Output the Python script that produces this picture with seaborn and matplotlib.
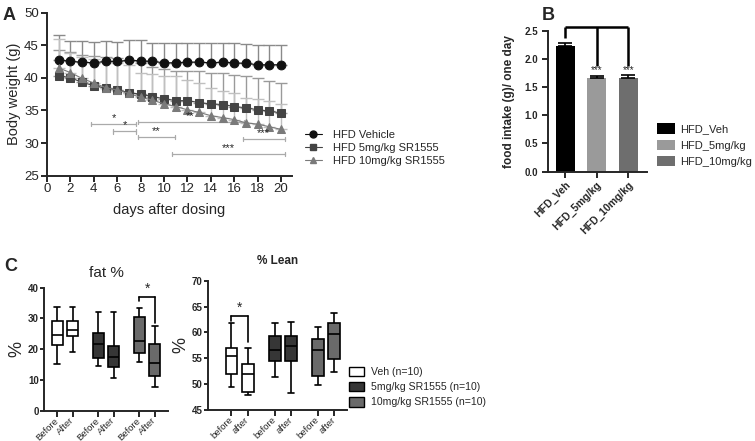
import numpy as np
import pandas as pd
import matplotlib
matplotlib.use("Agg")
import matplotlib.pyplot as plt
import seaborn as sns
from matplotlib.patches import Patch
from matplotlib.lines import Line2D

# ---------------- data: panel A ----------------
days = list(range(1, 21))
veh_mean = [42.8, 42.5, 42.4, 42.3, 42.5, 42.5, 42.7, 42.6, 42.5, 42.3,
            42.3, 42.4, 42.4, 42.3, 42.4, 42.3, 42.2, 42.0, 42.0, 42.0]
veh_sd = [3.7, 3.2, 3.2, 3.2, 3.1, 3.0, 3.1, 3.2, 2.9, 3.1,
          3.0, 2.9, 2.9, 3.0, 3.0, 3.0, 3.0, 3.0, 3.1, 3.1]
sr5_mean = [40.3, 40.0, 39.3, 38.8, 38.4, 38.2, 37.7, 37.5, 37.1, 36.8,
            36.5, 36.5, 36.2, 36.0, 35.9, 35.6, 35.4, 35.1, 34.9, 34.6]
sr5_sd = [4.0, 3.9, 4.2, 4.6, 4.8, 4.9, 4.8, 4.7, 4.6, 4.6,
          4.6, 4.6, 4.9, 4.8, 4.9, 4.9, 4.9, 4.8, 4.6, 4.6]
sr10_mean = [41.5, 40.8, 39.9, 39.2, 38.5, 38.1, 37.6, 37.0, 36.6, 36.0,
             35.6, 35.1, 34.7, 34.2, 33.9, 33.6, 33.1, 32.9, 32.5, 32.1]
sr10_sd = [4.5, 3.0, 3.3, 3.7, 3.9, 4.2, 4.3, 3.8, 4.0, 4.2,
           4.6, 4.5, 4.5, 4.3, 4.0, 4.0, 3.8, 3.8, 3.9, 3.9]
groupsA = ["HFD Vehicle", "HFD 5mg/kg SR1555", "HFD 10mg/kg SR1555"]
sig_x0 = [3.8, 5.65, 7.75, 7.75, 16.75, 10.65]
sig_x1 = [7.6, 7.6, 16.8, 10.9, 20.3, 20.3]
sig_y = [32.9, 31.8, 33.2, 30.9, 30.6, 28.3]
sig_lab = ["*", "*", "**", "**", "***", "***"]

# ---------------- data: panel B ----------------
catsB = ["HFD_Veh", "HFD_5mg/kg", "HFD_10mg/kg"]
intake = [2.23, 1.66, 1.66]
intake_err = [0.06, 0.04, 0.05]

# ---------------- data: panel C ----------------
box_labels_fat = ["Before", "After", "Before", "After", "Before", "After"]
box_labels_lean = ["before", "after", "before", "after", "before", "after"]
box_groups = ["Veh (n=10)", "Veh (n=10)", "5mg/kg SR1555 (n=10)", "5mg/kg SR1555 (n=10)",
              "10mg/kg SR1555 (n=10)", "10mg/kg SR1555 (n=10)"]
fat_pos = [0, 1, 2.66, 3.66, 5.33, 6.33]
lean_pos = [0, 1, 2.66, 3.66, 5.3, 6.3]
# min, Q1, median, Q3, max
fat_stats = [[15.1, 21.4, 24.5, 29.3, 33.8],
             [19.1, 24.3, 26.2, 29.3, 33.6],
             [14.7, 17.3, 21.6, 25.3, 32.0],
             [10.5, 14.1, 17.5, 21.0, 32.0],
             [16.0, 18.8, 22.8, 30.5, 33.5],
             [7.6, 11.2, 15.4, 21.8, 27.6]]
lean_stats = [[49.4, 52.0, 55.5, 56.9, 61.9],
              [47.9, 48.4, 52.0, 53.95, 56.9],
              [51.4, 54.5, 56.6, 59.4, 61.75],
              [48.3, 54.5, 57.4, 59.3, 62.1],
              [49.8, 51.6, 56.6, 58.7, 61.1],
              [52.3, 54.9, 59.7, 61.9, 63.8]]

# ---------------- style ----------------
sns.set_style("ticks")
plt.rcParams["font.family"] = ["Liberation Sans", "DejaVu Sans"]
plt.rcParams["axes.linewidth"] = 1.4
plt.rcParams["xtick.major.width"] = 1.4
plt.rcParams["ytick.major.width"] = 1.4

fig = plt.figure(figsize=(7.55, 4.41), dpi=100)

# ================= Panel A =================
axA = fig.add_axes([0.0623, 0.6016, 0.3245, 0.370])
colA = {"HFD Vehicle": "#111111", "HFD 5mg/kg SR1555": "#444444", "HFD 10mg/kg SR1555": "#7a7a7a"}
ecolA = {"HFD Vehicle": "#8a8a8a", "HFD 5mg/kg SR1555": "#9a9a9a", "HFD 10mg/kg SR1555": "#c0c0c0"}
mkA = {"HFD Vehicle": "o", "HFD 5mg/kg SR1555": "s", "HFD 10mg/kg SR1555": "^"}
dfA = pd.DataFrame({
    "day": days * 3,
    "weight": veh_mean + sr5_mean + sr10_mean,
    "sd": veh_sd + sr5_sd + sr10_sd,
    "group": [groupsA[0]] * 20 + [groupsA[1]] * 20 + [groupsA[2]] * 20,
})
for g in groupsA:
    sub = dfA[dfA.group == g]
    axA.errorbar(sub.day, sub.weight, yerr=[np.zeros(len(sub)), sub.sd], fmt="none",
                 ecolor=ecolA[g], elinewidth=1.0, capsize=4, capthick=1.0, zorder=1)
n_before = len(axA.lines)
sns.lineplot(data=dfA, x="day", y="weight", hue="group", style="group",
             markers=mkA, dashes=False, palette=colA, markersize=6.3,
             linewidth=0.8, legend=False, ax=axA, zorder=3)
for ln in axA.lines[n_before:]:
    ln.set_markeredgecolor(ln.get_color())
axA.set_xlim(0, 20.94)
axA.set_ylim(25, 50)
axA.set_xticks(range(0, 21, 2))
axA.set_yticks(range(25, 51, 5))
axA.tick_params(labelsize=9.5, length=4, direction="out")
axA.tick_params(axis="x", pad=1)
axA.tick_params(axis="y", pad=2)
axA.set_xlabel("days after dosing", fontsize=10.5, labelpad=6)
axA.set_ylabel("Body weight (g)", fontsize=10.5, labelpad=2)
sns.despine(ax=axA)
for x0, x1, y, lab in zip(sig_x0, sig_x1, sig_y, sig_lab):
    axA.plot([x0, x1], [y, y], color="#aaaaaa", lw=0.9, zorder=2)
    axA.plot([x0, x0], [y - 0.35, y + 0.35], color="#aaaaaa", lw=0.9)
    axA.plot([x1, x1], [y - 0.35, y + 0.35], color="#aaaaaa", lw=0.9)
    axA.text((x0 + x1) / 2, y + 0.15, lab, ha="center", va="bottom", fontsize=8)
hA = [Line2D([], [], color=colA[g], marker=mkA[g], markersize=5, lw=0.8,
             markeredgecolor=colA[g]) for g in groupsA]
axA.legend(hA, groupsA, loc="center left", bbox_to_anchor=(0.404, 0.665),
           bbox_transform=fig.transFigure, frameon=False, fontsize=8,
           borderpad=0, borderaxespad=0,
           handlelength=1.5, handletextpad=1.0, labelspacing=0.25)
fig.text(0.004, 0.985, "A", fontsize=13, fontweight="bold", va="top")

# ================= Panel B =================
axB = fig.add_axes([0.7262, 0.6107, 0.1303, 0.3197])
colB = {"HFD_Veh": "#000000", "HFD_5mg/kg": "#9a9a9a", "HFD_10mg/kg": "#6e6e6e"}
dfB = pd.DataFrame({"cat": catsB, "val": intake, "err": intake_err})
sns.barplot(data=dfB, x="cat", y="val", hue="cat", palette=colB, width=0.6,
            legend=False, ax=axB, edgecolor="none")
axB.errorbar(range(3), dfB.val, yerr=[np.zeros(3), dfB.err], fmt="none",
             ecolor="black", elinewidth=1.2, capsize=5, capthick=1.2)
axB.set_xlim(-0.53, 2.58)
axB.set_ylim(0, 2.5)
axB.set_yticks([0, 0.5, 1.0, 1.5, 2.0, 2.5])
axB.set_yticklabels(["0.0", "0.5", "1.0", "1.5", "2.0", "2.5"], fontweight="bold")
axB.set_xticks(range(3))
axB.set_xticklabels(catsB, rotation=45, ha="right", rotation_mode="anchor", fontweight="bold")
axB.tick_params(labelsize=7, length=4)
axB.tick_params(axis="x", labelsize=7.5, pad=2)
axB.set_xlabel("")
axB.set_ylabel("food intake (g)/ one day", fontsize=8.5, fontweight="bold", labelpad=7)
sns.despine(ax=axB)
bk = dict(color="black", lw=1.8, clip_on=False, solid_capstyle="butt")
axB.plot([0, 2], [2.56, 2.56], **bk)
axB.plot([0, 0], [2.56, 2.37], **bk)
axB.plot([1, 1], [2.56, 1.88], **bk)
axB.plot([2, 2], [2.56, 1.88], **bk)
for i in (1, 2):
    axB.text(i, 1.72, "***", ha="center", va="bottom", fontsize=7)
hB = [Patch(facecolor=colB[c], edgecolor="none") for c in catsB]
axB.legend(hB, catsB, loc="center left", bbox_to_anchor=(0.870, 0.671),
           bbox_transform=fig.transFigure, frameon=False, fontsize=8,
           borderpad=0, borderaxespad=0,
           handlelength=1.6, handleheight=1.1, handletextpad=0.45, labelspacing=0.45)
fig.text(0.718, 0.985, "B", fontsize=13, fontweight="bold", va="top")

# ================= Panel C =================
colC = {"Veh (n=10)": "#ffffff", "5mg/kg SR1555 (n=10)": "#363636",
        "10mg/kg SR1555 (n=10)": "#6a6a6a"}


def box_frame(pos, stats):
    rows = []
    for p, st, g in zip(pos, stats, box_groups):
        for v in st:
            rows.append({"pos": p, "value": v, "group": g})
    return pd.DataFrame(rows)


def draw_box(ax, pos, stats, labels):
    df = box_frame(pos, stats)
    sns.boxplot(data=df, x="pos", y="value", hue="group", palette=colC,
                native_scale=True, whis=(0, 100), width=0.72, dodge=False,
                linecolor="black", linewidth=1.2, fliersize=0, legend=False, ax=ax)
    ax.set_xticks(pos)
    ax.set_xticklabels(labels, rotation=45, ha="right", va="center", rotation_mode="anchor")
    ax.tick_params(axis="x", labelsize=6.8, length=4, pad=2)
    ax.tick_params(axis="y", labelsize=7, length=3, pad=1)
    ax.set_xlabel("")
    sns.despine(ax=ax)


axF = fig.add_axes([0.0587, 0.0687, 0.1642, 0.2789])
draw_box(axF, fat_pos, fat_stats, box_labels_fat)
axF.set_xlim(-0.84, 7.2)
axF.set_ylim(0, 40)
axF.set_yticks([0, 10, 20, 30, 40])
for t in axF.get_yticklabels():
    t.set_fontweight("bold")
axF.set_ylabel("%", fontsize=13, labelpad=2)
axF.set_title("fat %", fontsize=11, pad=8)
bc = dict(color="black", lw=1.2, clip_on=False)
axF.plot([fat_pos[4], fat_pos[5]], [36.9, 36.9], **bc)
axF.plot([fat_pos[4], fat_pos[4]], [36.9, 35.6], **bc)
axF.plot([fat_pos[5], fat_pos[5]], [36.9, 28.6], **bc)
axF.text((fat_pos[4] + fat_pos[5]) / 2, 37.3, "*", ha="center", va="bottom", fontsize=10)

axL = fig.add_axes([0.2759, 0.0703, 0.1841, 0.2932])
draw_box(axL, lean_pos, lean_stats, box_labels_lean)
axL.set_xlim(-1.42, 7.11)
axL.set_ylim(45, 70)
axL.set_yticks([45, 50, 55, 60, 65, 70])
for t in axL.get_yticklabels():
    t.set_fontweight("bold")
axL.set_ylabel("%", fontsize=13, labelpad=2)
axL.set_title("% Lean", fontsize=8.5, fontweight="bold", pad=12)
axL.plot([lean_pos[0], lean_pos[1]], [63.2, 63.2], **bc)
axL.plot([lean_pos[0], lean_pos[0]], [63.2, 62.3], **bc)
axL.plot([lean_pos[1], lean_pos[1]], [63.2, 58.2], **bc)
axL.text(0.5, 63.5, "*", ha="center", va="bottom", fontsize=10)

namesC = ["Veh (n=10)", "5mg/kg SR1555 (n=10)", "10mg/kg SR1555 (n=10)"]
hC = [Patch(facecolor=colC[g], edgecolor="black", lw=1.0) for g in namesC]
axL.legend(hC, namesC, loc="center left", bbox_to_anchor=(0.4627, 0.1224),
           bbox_transform=fig.transFigure, frameon=False, fontsize=7.6,
           borderpad=0, borderaxespad=0,
           handlelength=1.4, handleheight=1.0, handletextpad=0.64, labelspacing=0.47)
fig.text(0.006, 0.414, "C", fontsize=13, fontweight="bold", va="top")

fig.savefig("out.png", dpi=100)
